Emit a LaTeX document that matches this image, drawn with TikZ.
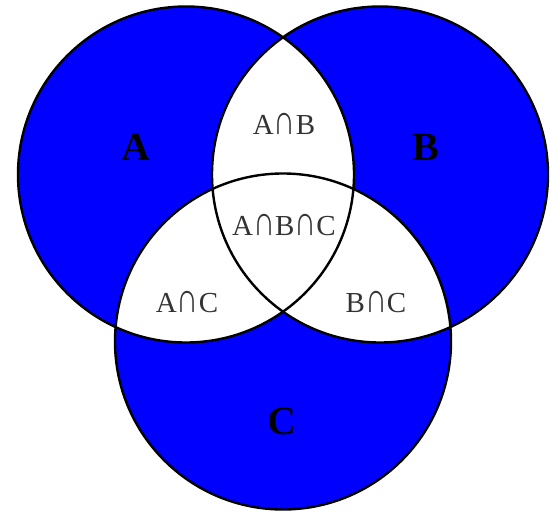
\documentclass[tikz,border=0pt]{standalone}
\usepackage{fontspec}
\usepackage{graphicx}
\setmainfont{Liberation Serif}
\newcommand{\icap}{\scalebox{1.05}[1.45]{∩}}
\begin{document}
\begin{tikzpicture}[x=1pt,y=1pt]
\definecolor{vblue}{RGB}{0,0,255}
\tikzset{
  ring/.style={draw=black, line width=2.4pt},
  biglabel/.style={font=\fontsize{40}{40}\selectfont\bfseries, inner sep=0pt},
  smalllabel/.style={font=\fontsize{29}{29}\selectfont, text=black!80, inner sep=0pt}
}
\useasboundingbox (0,0) rectangle (554,512);
\coordinate (ca) at (186,337.5);
\coordinate (cb) at (380,337.5);
\coordinate (cc) at (283,170.5);
% blue circles
\fill[vblue] (ca) circle (168pt);
\fill[vblue] (cb) circle (168pt);
\fill[vblue] (cc) circle (168pt);
% white intersections
\begin{scope}
  \clip (ca) circle (168pt);
  \fill[white] (cb) circle (168pt);
  \fill[white] (cc) circle (168pt);
\end{scope}
\begin{scope}
  \clip (cb) circle (168pt);
  \fill[white] (cc) circle (168pt);
\end{scope}
% outlines
\draw[ring] (ca) circle (168pt);
\draw[ring] (cb) circle (168pt);
\draw[ring] (cc) circle (168pt);
% labels
\node[biglabel] (la) at (136,365) {A};
\node[biglabel] (lb) at (426,365) {B};
\node[biglabel] (lc) at (282,91) {C};
\node[smalllabel] (lab) at (284,388) {A\icap B};
\node[smalllabel] (labc) at (284,287) {A\icap B\icap C};
\node[smalllabel] (lac) at (187,210) {A\icap C};
\node[smalllabel] (lbc) at (376,210) {B\icap C};
\end{tikzpicture}
\end{document}
